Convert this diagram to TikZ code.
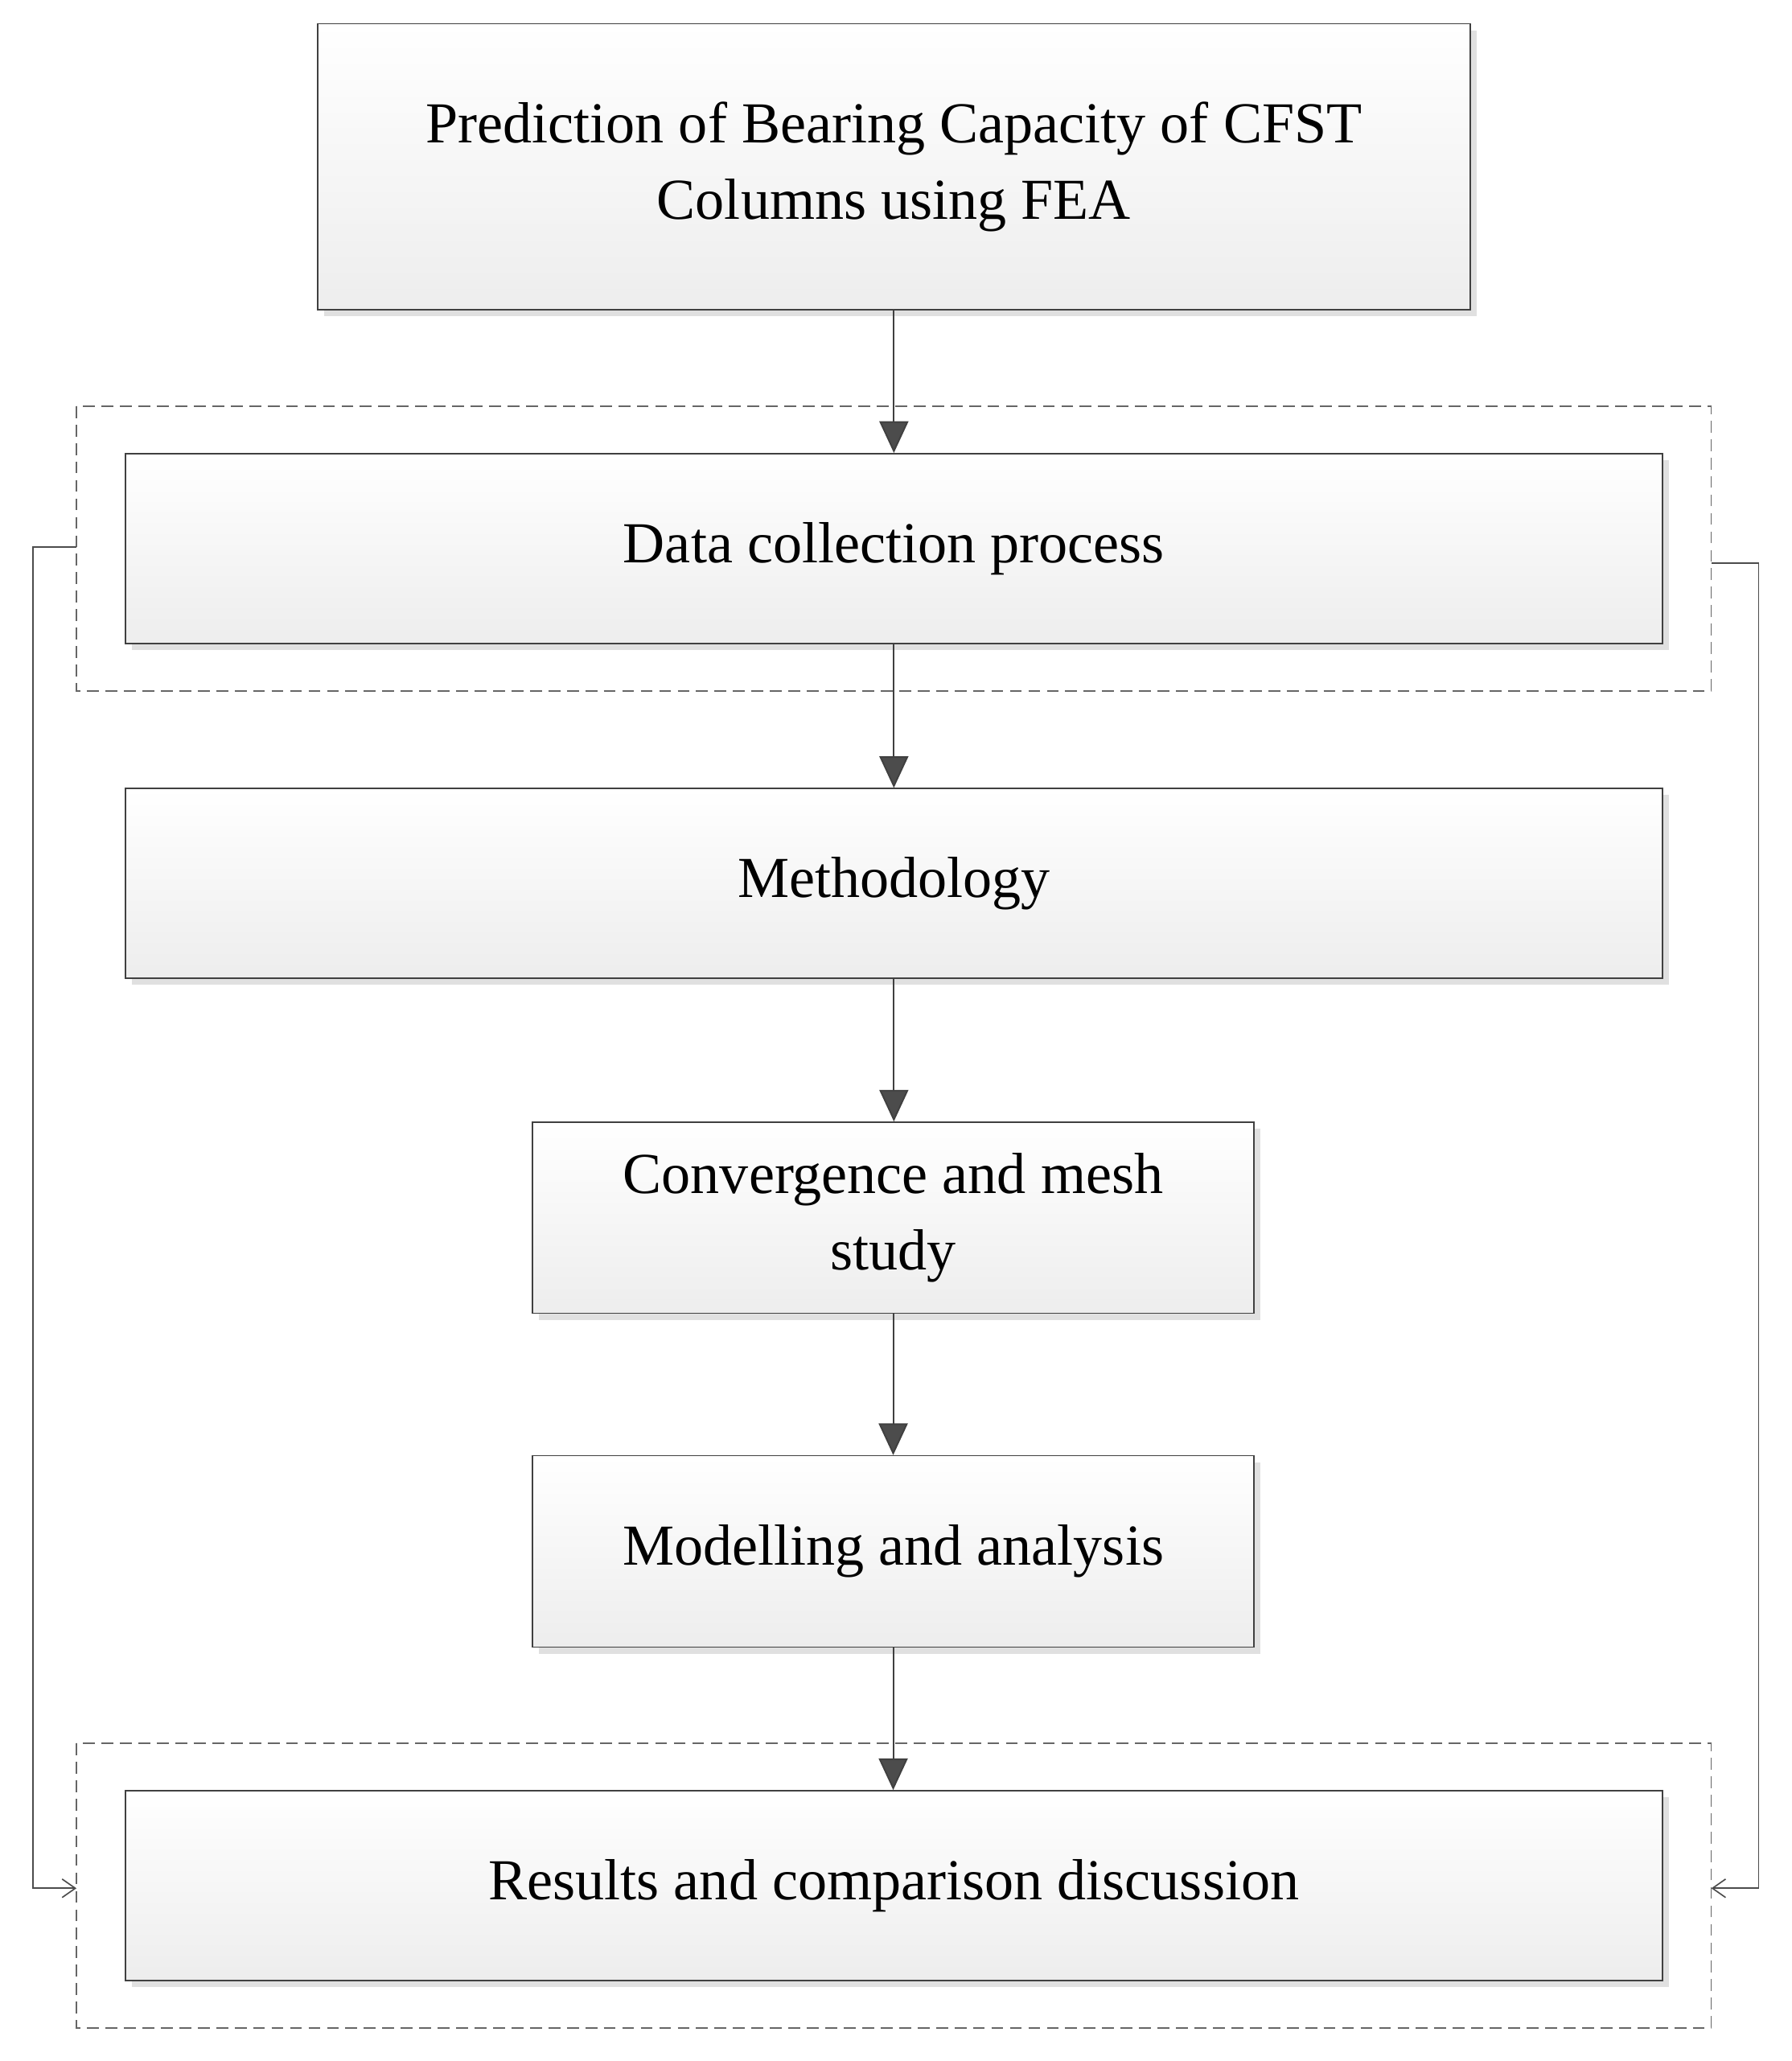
\documentclass[tikz,border=0pt]{standalone}
\usepackage{fontspec}
\setmainfont{Liberation Serif}
\usetikzlibrary{arrows.meta,shadows}
\begin{document}
\begin{tikzpicture}[x=1pt,y=-1pt,
  box/.style={draw=black!75,line width=1pt,top color=white,bottom color=black!7,
    drop shadow={shadow xshift=5pt,shadow yshift=-5pt,fill=black!12,opacity=1},
    font=\fontsize{44}{58}\selectfont,align=center,inner sep=0pt},
  grp/.style={draw=black!60,dashed,line width=1pt,dash pattern=on 9pt off 5pt},
  arr/.style={draw=black!75,line width=1.2pt,-{Triangle[length=24pt,width=22pt,fill=black!70]}},
  thin/.style={draw=black!70,line width=1pt,-{Straight Barb[length=10pt,width=14pt]}}]
\useasboundingbox (0,0) rectangle (1359,1563);
\path[grp] (58,308) rectangle (1298,524);
\path[grp] (58,1322) rectangle (1298,1538);
\node[box,minimum width=874pt,minimum height=217pt] (t) at (678,126.5) {Prediction of Bearing Capacity of CFST\\Columns using FEA};
\node[box,minimum width=1166pt,minimum height=144pt] (d) at (678,416) {Data collection process};
\node[box,minimum width=1166pt,minimum height=144pt] (m) at (678,670) {Methodology};
\node[box,minimum width=547pt,minimum height=145pt] (c) at (677.5,923.5) {Convergence and mesh\\study};
\node[box,minimum width=547pt,minimum height=145pt] (a) at (677.5,1176.5) {Modelling and analysis};
\node[box,minimum width=1166pt,minimum height=144pt] (r) at (678,1430) {Results and comparison discussion};
\coordinate (g1l) at (58,415); \coordinate (g2l) at (58,1432);
\coordinate (g1r) at (1298,427); \coordinate (g2r) at (1298,1432);
\draw[arr] (t.south -| d.north) -- (d.north);
\draw[arr] (d) -- (m);
\draw[arr] (m.south) -- (m.south |- c.north);
\draw[arr] (c) -- (a);
\draw[arr] (a.south) -- (a.south |- r.north);
\draw[thin] (g1l) -- (25,415) -- (25,1432) -- (g2l);
\draw[thin] (g1r) -- (1334,427) -- (1334,1432) -- (g2r);
\end{tikzpicture}
\end{document}
